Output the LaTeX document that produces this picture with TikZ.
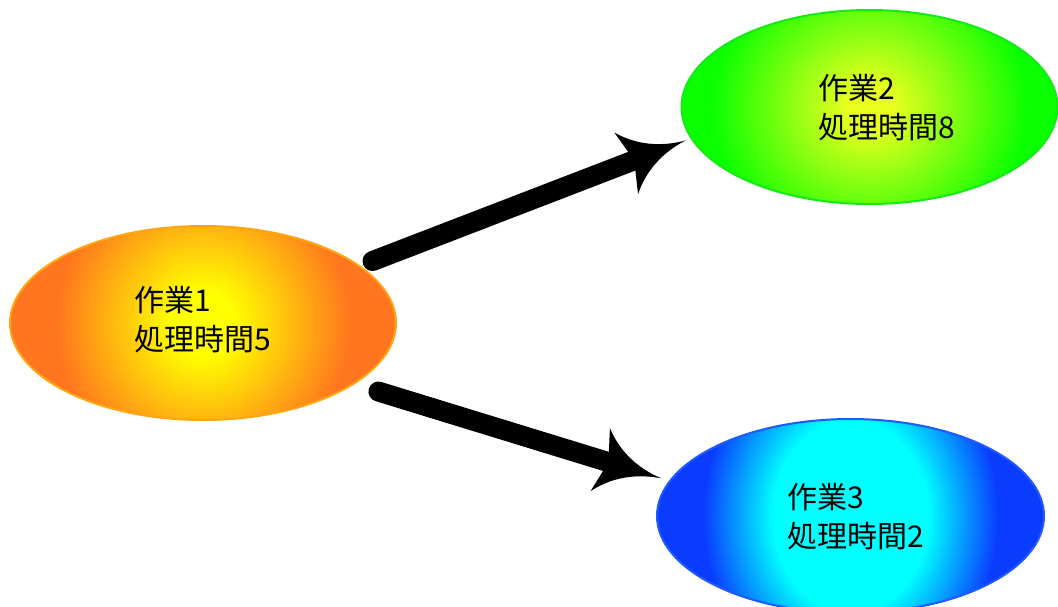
\documentclass[tikz,border=0pt]{standalone}
\usepackage{fontspec}
\newfontfamily\cjk{Noto Sans CJK JP}
\usetikzlibrary{shapes.geometric,arrows.meta}
\definecolor{c1i}{RGB}{255,255,0}
\definecolor{c1o}{RGB}{255,118,30}
\definecolor{c1l}{RGB}{255,165,20}
\definecolor{c2i}{RGB}{232,255,30}
\definecolor{c2o}{RGB}{10,255,0}
\definecolor{c2l}{RGB}{20,235,20}
\definecolor{c3i}{RGB}{0,255,255}
\definecolor{c3o}{RGB}{10,60,255}
\definecolor{c3l}{RGB}{30,90,255}
\pgfdeclareradialshading{glowone}{\pgfpoint{0bp}{0bp}}{color(0bp)=(c1i); color(4bp)=(c1i); color(19bp)=(c1o); color(25bp)=(c1o); color(50bp)=(c1o)}
\pgfdeclareradialshading{glowtwo}{\pgfpoint{0bp}{0bp}}{color(0bp)=(c2i); color(3bp)=(c2i); color(21bp)=(c2o); color(25bp)=(c2o); color(50bp)=(c2o)}
\pgfdeclareradialshading{glowthree}{\pgfpoint{0bp}{0bp}}{color(0bp)=(c3i); color(10bp)=(c3i); color(19bp)=(c3o); color(25bp)=(c3o); color(50bp)=(c3o)}
\pgfdeclarearrow{
  name = Swoop,
  setup code = {
    \pgfarrowssettipend{0pt}
    \pgfarrowssetlineend{-55pt}
    \pgfarrowssetbackend{-64pt}
    \pgfarrowshullpoint{0pt}{0pt}
    \pgfarrowshullpoint{-64pt}{33pt}
    \pgfarrowshullpoint{-64pt}{-33pt}
  },
  drawing code = {
    \pgfpathmoveto{\pgfqpoint{0pt}{0pt}}
    \pgfpathcurveto{\pgfqpoint{-20pt}{2pt}}{\pgfqpoint{-45pt}{10pt}}{\pgfqpoint{-64pt}{33pt}}
    \pgfpathlineto{\pgfqpoint{-58pt}{10pt}}
    \pgfpathlineto{\pgfqpoint{-58pt}{-10pt}}
    \pgfpathlineto{\pgfqpoint{-64pt}{-33pt}}
    \pgfpathcurveto{\pgfqpoint{-45pt}{-10pt}}{\pgfqpoint{-20pt}{-2pt}}{\pgfqpoint{0pt}{0pt}}
    \pgfpathclose
    \pgfusepathqfill
  }
}
\tikzset{
  task/.style={ellipse, inner sep=0pt, line width=2pt, minimum height=194pt},
  glow/.style n args={3}{path picture={
    \shade[shading=#1] (path picture bounding box.center) ellipse [x radius=#2, y radius=#3];}},
  lbl/.style={align=left, inner sep=0pt, font=\cjk\fontsize{30}{39}\selectfont},
  conn/.style={line width=20pt, line cap=round, black, -{Swoop}}
}
\begin{document}
\begin{tikzpicture}[x=1pt, y=-1pt]
\useasboundingbox[fill=white] (0,0) rectangle (1058,606);
\node[task, draw=c1l, glow={glowone}{193pt}{200pt}, minimum width=386pt] (e1) at (203,323) {};
\node[task, draw=c2l, glow={glowtwo}{188pt}{175pt}, minimum width=376pt] (e2) at (869.5,107) {};
\node[task, draw=c3l, glow={glowthree}{194pt}{240pt}, minimum width=387pt] (e3) at (850.5,516) {};
\node[lbl] (t1) at (203,320) {作業1\\処理時間5};
\node[lbl] (t2) at (887,108) {作業2\\処理時間8};
\node[lbl] (t3) at (856,516.5) {作業3\\処理時間2};
\draw[conn, shorten <=13pt, shorten >=5pt] (e1.20) -- (e2.190);
\draw[conn, shorten <=25pt, shorten >=8pt] (e1.-22) -- (e3.169);
\end{tikzpicture}
\end{document}
